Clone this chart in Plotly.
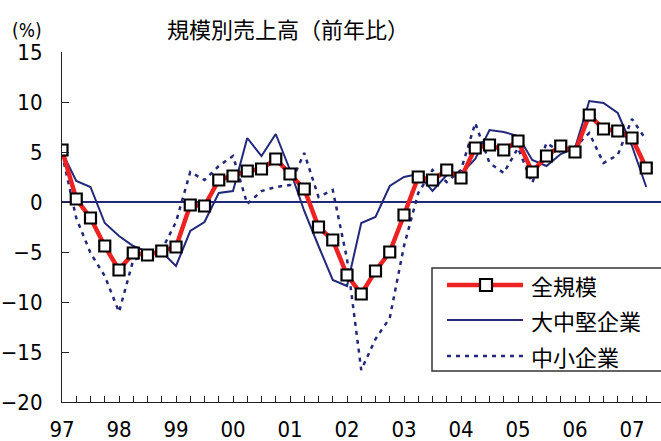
import plotly.graph_objects as go

# ---- data (quarterly, 1997Q1 .. 2007Q2) ----
quarters = list(range(42))
year_ticks = [0, 4, 8, 12, 16, 20, 24, 28, 32, 36, 40]
year_labels = ["97", "98", "99", "00", "01", "02", "03", "04", "05", "06", "07"]

total = [5.2, 0.3, -1.6, -4.4, -6.8, -5.1, -5.3, -4.9, -4.5, -0.3,
         -0.4, 2.2, 2.6, 3.1, 3.3, 4.3, 2.8, 1.3, -2.5, -3.8,
         -7.3, -9.2, -6.9, -5.0, -1.3, 2.5, 2.2, 3.2, 2.4, 5.4,
         5.7, 5.2, 6.1, 3.0, 4.6, 5.6, 5.0, 8.7, 7.3, 7.1,
         6.4, 3.4]
large = [5.0, 2.1, 1.5, -2.1, -3.4, -4.4, -5.0, -5.0, -6.4, -2.9,
         -2.0, 0.9, 1.1, 6.4, 4.6, 6.8, 3.2, -0.9, -4.4, -7.8,
         -8.4, -2.1, -1.5, 1.6, 2.5, 2.8, 1.1, 2.7, 2.8, 4.3,
         7.2, 7.0, 6.6, 4.2, 3.6, 4.8, 5.4, 10.1, 9.9, 8.9,
         5.6, 1.5]
small = [4.8, -1.6, -5.1, -7.4, -11.0, -5.8, -5.3, -4.8, -2.0, 3.0,
         2.2, 3.6, 4.6, -0.2, 1.1, 1.5, 1.7, 4.9, 0.5, 1.2,
         -5.7, -16.8, -13.7, -11.6, -4.4, 0.9, 3.2, 2.0, 3.2, 7.9,
         3.9, 2.9, 5.4, 1.9, 5.9, 5.0, 5.5, 6.9, 3.9, 4.7,
         8.3, 6.2]
series_names = ["全規模", "大中堅企業", "中小企業"]

RED = "#ee2222"
NAVY = "#22287a"
NUMFONT = "Liberation Sans Narrow, DejaVu Sans Condensed, Arial Narrow, sans-serif"
CJK = "Noto Sans CJK JP, Noto Sans CJK SC, sans-serif"
DASH = "4px,5px"

fig = go.Figure()
fig.add_trace(go.Scatter(x=quarters, y=small, mode="lines", name=series_names[2],
                         line=dict(color=NAVY, width=2.5, dash=DASH), showlegend=False))
fig.add_trace(go.Scatter(x=quarters, y=large, mode="lines", name=series_names[1],
                         line=dict(color=NAVY, width=2), showlegend=False))
fig.add_trace(go.Scatter(x=quarters, y=total, mode="lines+markers", name=series_names[0],
                         line=dict(color=RED, width=4.5),
                         marker=dict(symbol="square", size=11, color="white",
                                     line=dict(color="black", width=2.2)),
                         showlegend=False))

L, R, T, B = 62, 0, 52, 39
W, H = 661, 441
PW, PH = W - L - R, H - T - B


def px_x(px):
    return (px - L) / PW


def px_y(py):
    return (H - B - py) / PH


# ---- custom legend ----
shapes = [
    dict(type="rect", xref="paper", yref="paper", x0=px_x(432), x1=px_x(668),
         y0=px_y(371), y1=px_y(268), line=dict(color="#333333", width=1.5),
         fillcolor="white", layer="above"),
]
rows = [285, 320, 356]
lx0, lx1 = px_x(447), px_x(523)
shapes.append(dict(type="line", xref="paper", yref="paper", x0=lx0, x1=lx1,
                   y0=px_y(rows[0]), y1=px_y(rows[0]), line=dict(color=RED, width=4.5)))
shapes.append(dict(type="rect", xref="paper", yref="paper",
                   x0=px_x(486 - 6), x1=px_x(486 + 6),
                   y0=px_y(rows[0] + 6), y1=px_y(rows[0] - 6),
                   line=dict(color="black", width=2.2), fillcolor="white"))
shapes.append(dict(type="line", xref="paper", yref="paper", x0=lx0, x1=lx1,
                   y0=px_y(rows[1]), y1=px_y(rows[1]), line=dict(color=NAVY, width=2)))
shapes.append(dict(type="line", xref="paper", yref="paper", x0=lx0, x1=lx1,
                   y0=px_y(rows[2]), y1=px_y(rows[2]), line=dict(color=NAVY, width=2.5, dash=DASH)))

annotations = []
for name, r in zip(series_names, rows):
    annotations.append(dict(text=name, xref="paper", yref="paper", x=px_x(529), y=px_y(r),
                            xanchor="left", yanchor="middle", showarrow=False,
                            font=dict(family=CJK, size=22, color="black")))
annotations.append(dict(text="規模別売上高（前年比）", xref="paper", yref="paper",
                        x=px_x(288), y=px_y(28), xanchor="center", yanchor="middle",
                        showarrow=False, font=dict(family=CJK, size=22, color="black")))
annotations.append(dict(text="(%)", xref="paper", yref="paper",
                        x=px_x(27), y=px_y(30), xanchor="center", yanchor="middle",
                        showarrow=False, font=dict(family=NUMFONT, size=19, color="black")))

fig.update_layout(
    width=W, height=H,
    margin=dict(l=L, r=R, t=T, b=B, pad=0),
    paper_bgcolor="white", plot_bgcolor="white",
    showlegend=False,
    shapes=shapes, annotations=annotations,
    xaxis=dict(range=[0, PW / 14.25], tickmode="array", tickvals=year_ticks, ticktext=year_labels,
               showgrid=False, zeroline=False, showline=True, linecolor="#222222", linewidth=1.2,
               ticks="inside", ticklen=6, tickcolor="#222222", tickwidth=1,
               minor=dict(dtick=1, tick0=0, ticks="inside", ticklen=6, tickcolor="#222222",
                          tickwidth=1, showgrid=False),
               tickfont=dict(family=NUMFONT, size=22, color="black"), ticklabelstandoff=7),
    yaxis=dict(range=[-20, 15], dtick=5, tick0=0, showgrid=False,
               zeroline=True, zerolinecolor=NAVY, zerolinewidth=2,
               showline=True, linecolor="#222222", linewidth=1.2,
               ticks="inside", ticklen=7, tickcolor="#222222", tickwidth=1,
               tickfont=dict(family=NUMFONT, size=22, color="black"), ticklabelstandoff=14),
)

fig.write_html("out.html")
